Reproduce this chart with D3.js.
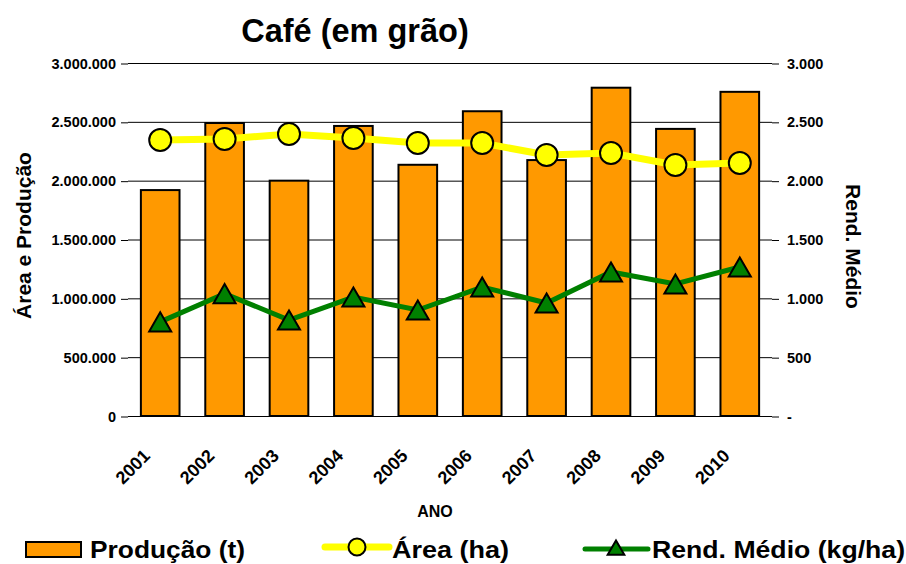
<!DOCTYPE html>
<html>
<head>
<meta charset="utf-8">
<script src="https://cdn.jsdelivr.net/npm/d3@7"></script>
<style>
  body { margin: 0; background: #fff; }
  text { font-family: "Liberation Sans", Arial, sans-serif; font-weight: bold; fill: #000; }
</style>
</head>
<body>
<div id="chart"></div>
<script>
// values
const years = ["2001", "2002", "2003", "2004", "2005", "2006", "2007", "2008", "2009", "2010"];
const producao = [1920000, 2490000, 2000000, 2465000, 2135000, 2590000, 2175000, 2790000, 2440000, 2755000];
const area = [2346000, 2354000, 2397000, 2363000, 2320000, 2320000, 2218000, 2235000, 2133000, 2150000];
const rendimento = [800, 1040, 816, 1011, 901, 1096, 960, 1224, 1122, 1266];
const leftTicks = [0, 500000, 1000000, 1500000, 2000000, 2500000, 3000000];
const rightTicks = [0, 500, 1000, 1500, 2000, 2500, 3000];

const width = 906, height = 564;
const margin = { top: 63, right: 134, bottom: 148, left: 128 };

const svg = d3.select("#chart")
  .append("svg")
  .attr("width", width)
  .attr("height", height);

const x = d3.scaleBand()
  .domain(years)
  .range([margin.left, width - margin.right])
  .paddingInner(0.4)
  .paddingOuter(0.2);

const yL = d3.scaleLinear().domain([0, 3000000]).range([height - margin.bottom, margin.top]);
const yR = d3.scaleLinear().domain([0, 3000]).range([height - margin.bottom, margin.top]);

const fmtPt = v => d3.format(",")(v).replace(/,/g, ".");

// gridlines
svg.append("g")
  .selectAll("line")
  .data(leftTicks)
  .enter().append("line")
  .attr("x1", margin.left)
  .attr("x2", width - margin.right)
  .attr("y1", d => yL(d) + 0.5)
  .attr("y2", d => yL(d) + 0.5)
  .attr("stroke", "#000")
  .attr("stroke-width", 1);

// left axis
const gL = svg.append("g")
  .attr("transform", `translate(${margin.left},0.5)`)
  .call(d3.axisLeft(yL).tickValues(leftTicks).tickFormat(fmtPt).tickSize(7).tickPadding(5));
gL.select(".domain").remove();
gL.selectAll("text").style("font-size", "14.5px").style("font-family", "Liberation Sans, Arial, sans-serif");

// right axis
const gR = svg.append("g")
  .attr("transform", `translate(${width - margin.right},0.5)`)
  .call(d3.axisRight(yR).tickValues(rightTicks).tickFormat(d => d === 0 ? "-" : fmtPt(d)).tickSize(7).tickPadding(8));
gR.select(".domain").remove();
gR.selectAll("text").style("font-size", "14.5px").style("font-family", "Liberation Sans, Arial, sans-serif");

// bars
svg.append("g")
  .selectAll("rect")
  .data(producao)
  .enter().append("rect")
  .attr("x", (d, i) => x(years[i]))
  .attr("y", d => yL(d))
  .attr("width", x.bandwidth())
  .attr("height", d => yL(0) - yL(d))
  .attr("fill", "#ff9900")
  .attr("stroke", "#000")
  .attr("stroke-width", 2);

// x labels
const cx = (d, i) => x(years[i]) + x.bandwidth() / 2;
svg.append("g")
  .selectAll("text")
  .data(years)
  .enter().append("text")
  .attr("transform", d => `translate(${x(d) + x.bandwidth() / 2 - 9},${yL(0) + 41}) rotate(-45)`)
  .attr("text-anchor", "end")
  .style("font-size", "18px")
  .text(d => d);

// area line
svg.append("path")
  .datum(area)
  .attr("d", d3.line().x(cx).y(d => yL(d)))
  .attr("fill", "none")
  .attr("stroke", "#ffff00")
  .attr("stroke-width", 7);

svg.append("g")
  .selectAll("circle")
  .data(area)
  .enter().append("circle")
  .attr("cx", cx)
  .attr("cy", d => yL(d))
  .attr("r", 11)
  .attr("fill", "#ffff00")
  .attr("stroke", "#000")
  .attr("stroke-width", 2);

// rendimento line
svg.append("path")
  .datum(rendimento)
  .attr("d", d3.line().x(cx).y(d => yR(d)))
  .attr("fill", "none")
  .attr("stroke", "#008000")
  .attr("stroke-width", 5);

// triangle centred on its bounding box, like the spreadsheet markers
const triSize = 210;
const triOff = Math.sqrt(triSize / (3 * Math.sqrt(3))) / 2;
const tri = d3.symbol().type(d3.symbolTriangle).size(triSize);
svg.append("g")
  .selectAll("path")
  .data(rendimento)
  .enter().append("path")
  .attr("d", tri)
  .attr("transform", (d, i) => `translate(${cx(d, i)},${yR(d) + triOff})`)
  .attr("fill", "#008000")
  .attr("stroke", "#000")
  .attr("stroke-width", 2);

// titles
svg.append("text")
  .attr("x", 355).attr("y", 42)
  .attr("text-anchor", "middle")
  .style("font-size", "32.5px")
  .text("Café (em grão)");

svg.append("text")
  .attr("transform", `translate(31,${(yL(0) + yL(3000000)) / 2 - 4}) rotate(-90)`)
  .attr("text-anchor", "middle")
  .style("font-size", "21px")
  .text("Área e Produção");

svg.append("text")
  .attr("transform", `translate(846,${(yL(0) + yL(3000000)) / 2 + 7}) rotate(90)`)
  .attr("text-anchor", "middle")
  .style("font-size", "21px")
  .text("Rend. Médio");

svg.append("text")
  .attr("x", 435).attr("y", 517)
  .attr("text-anchor", "middle")
  .style("font-size", "16px")
  .text("ANO");

// legend
const ly = 549;
const leg = svg.append("g");
leg.append("rect")
  .attr("x", 26).attr("y", ly - 7).attr("width", 55).attr("height", 15)
  .attr("fill", "#ff9900").attr("stroke", "#000").attr("stroke-width", 2);
leg.append("text").attr("x", 90).attr("y", ly + 9).style("font-size", "24px")
  .attr("textLength", 155).attr("lengthAdjust", "spacingAndGlyphs").text("Produção (t)");

leg.append("line").attr("x1", 325).attr("x2", 389).attr("y1", ly - 2).attr("y2", ly - 2)
  .attr("stroke", "#ffff00").attr("stroke-width", 7).attr("stroke-linecap", "round");
leg.append("circle").attr("cx", 357).attr("cy", ly - 2).attr("r", 8.5)
  .attr("fill", "#ffff00").attr("stroke", "#000").attr("stroke-width", 2);
leg.append("text").attr("x", 392).attr("y", ly + 9).style("font-size", "24px")
  .attr("textLength", 117).attr("lengthAdjust", "spacingAndGlyphs").text("Área (ha)");

leg.append("line").attr("x1", 585).attr("x2", 648).attr("y1", ly).attr("y2", ly)
  .attr("stroke", "#008000").attr("stroke-width", 5).attr("stroke-linecap", "round");
leg.append("path").attr("d", d3.symbol().type(d3.symbolTriangle).size(120))
  .attr("transform", `translate(616,${ly + 1})`)
  .attr("fill", "#008000").attr("stroke", "#000").attr("stroke-width", 2);
leg.append("text").attr("x", 652).attr("y", ly + 9).style("font-size", "24px")
  .attr("textLength", 253).attr("lengthAdjust", "spacingAndGlyphs").text("Rend. Médio (kg/ha)");
</script>
</body>
</html>
